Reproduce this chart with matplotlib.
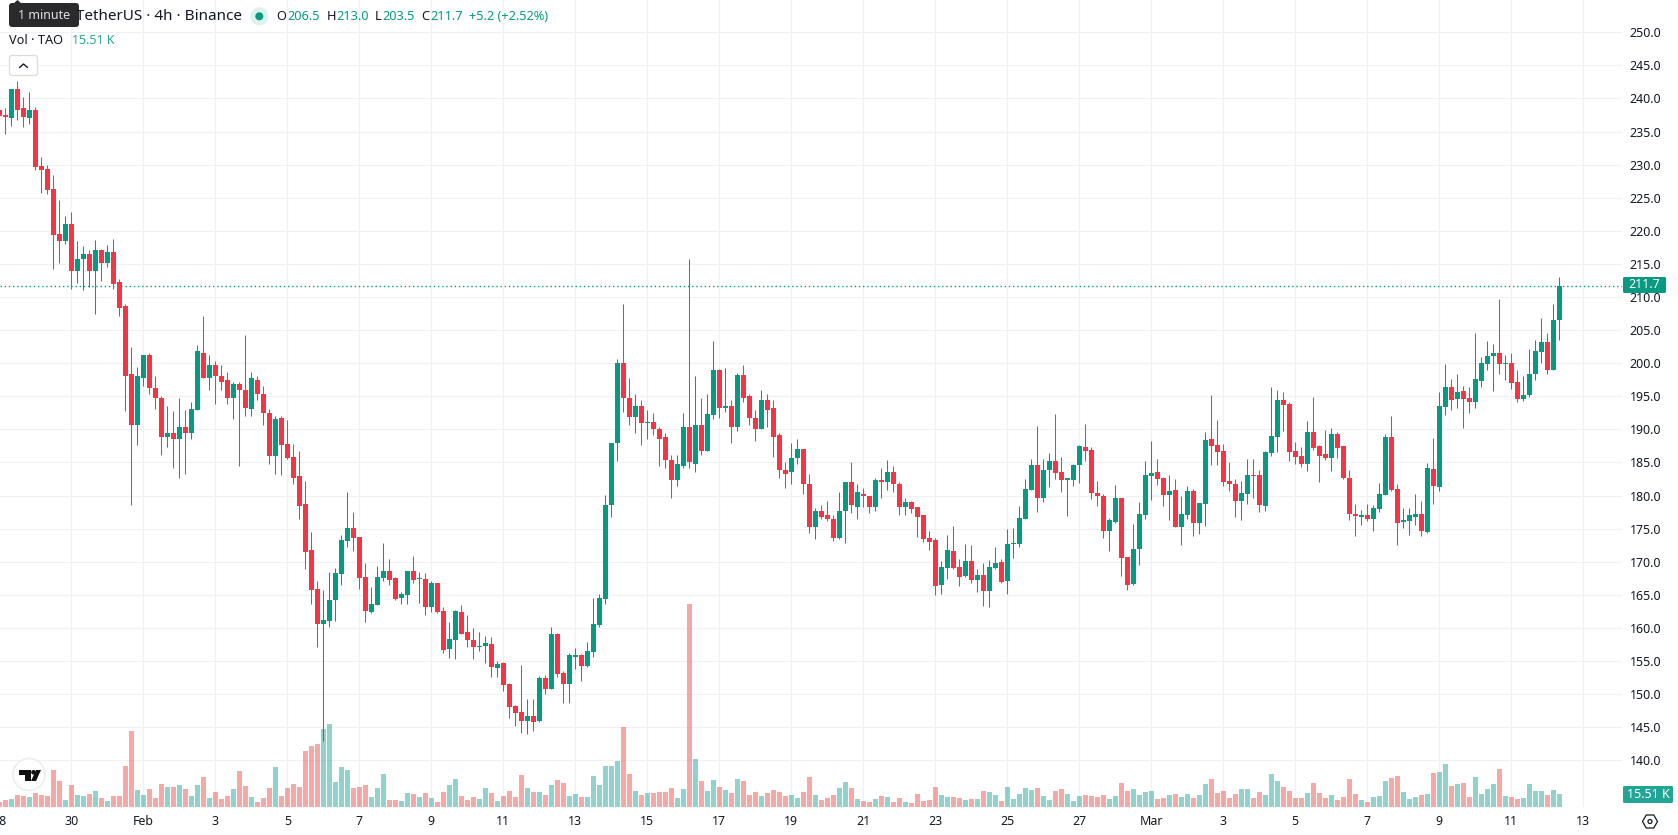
import numpy as np
import matplotlib
matplotlib.use("Agg")
import matplotlib.pyplot as plt
from matplotlib.patches import Circle, FancyBboxPatch, Polygon

plt.rcParams["font.family"] = ["Noto Sans", "DejaVu Sans"]

# ------------------------------------------------------------
# TAO / USDT 4h bars, values in USDT, volume in thousands
# ------------------------------------------------------------
opens = [
    238.2, 237.5, 237.0, 241.4, 238.5, 237.0, 238.2, 229.8, 229.3, 226.3,
    219.5, 218.4, 221.1, 214.0, 215.7, 216.5, 213.9, 217.1, 215.2, 216.8,
    212.2, 208.6, 198.4, 190.6, 197.7, 201.2, 196.3, 194.8, 188.8, 189.5,
    188.5, 190.4, 189.5, 193.0, 201.6, 197.8, 199.7, 198.0, 197.4, 194.8,
    196.9, 196.0, 193.1, 197.5, 195.4, 192.5, 186.0, 191.7, 187.8, 185.9,
    183.0, 178.7, 171.8, 165.9, 160.6, 161.0, 164.2, 168.1, 173.1, 175.1,
    173.7, 167.7, 162.4, 163.5, 167.5, 168.6, 167.5, 164.5, 165.0, 168.6,
    167.4, 167.4, 163.2, 166.8, 162.5, 156.8, 158.2, 162.4, 159.4, 158.2,
    157.1, 157.2, 157.6, 153.9, 154.7, 151.5, 148.2, 147.3, 145.9, 146.7,
    145.9, 152.4, 150.7, 159.1, 153.2, 151.5, 155.6, 155.9, 154.2, 156.3,
    160.4, 164.4, 178.5, 187.9, 200.0, 194.8, 191.8, 193.5, 190.9, 191.1,
    190.1, 188.9, 185.3, 182.3, 184.5, 190.4, 184.8, 190.7, 186.8, 192.1,
    198.9, 193.3, 193.6, 190.3, 198.2, 195.0, 191.7, 190.1, 194.4, 193.2,
    189.1, 183.9, 183.5, 185.6, 187.0, 181.8, 175.3, 177.7, 177.1, 176.5,
    173.6, 177.6, 182.1, 178.3, 180.3, 180.0, 178.2, 182.4, 182.0, 183.5,
    181.8, 178.2, 179.0, 178.2, 177.0, 173.6, 173.3, 166.5, 169.0, 171.6,
    169.2, 167.8, 170.1, 167.2, 168.0, 165.6, 169.0, 169.9, 167.1, 172.7,
    172.7, 176.4, 180.8, 184.6, 179.6, 183.9, 185.2, 183.6, 182.4, 182.4,
    184.6, 187.3, 186.9, 180.4, 179.9, 174.6, 176.0, 179.6, 170.7, 166.6,
    171.9, 177.0, 183.0, 183.6, 182.6, 180.1, 180.8, 175.2, 177.0, 180.7,
    175.8, 178.7, 188.5, 187.6, 186.7, 182.2, 181.7, 179.2, 180.2, 183.1,
    183.1, 178.4, 186.5, 188.9, 194.5, 193.9, 186.7, 186.0, 184.8, 189.6,
    187.5, 186.3, 185.7, 189.3, 187.5, 182.7, 177.2, 176.8, 177.1, 176.5,
    178.0, 180.1, 188.9, 181.0, 176.0, 176.2, 176.8, 177.2, 174.5, 184.0,
    181.3, 193.4, 196.4, 194.6, 195.8, 194.8, 194.2, 197.3, 199.9, 201.1,
    201.6, 199.9, 200.1, 197.2, 194.6, 195.2, 198.3, 201.7, 203.2, 199.0,
    206.5,
]
highs = [
    238.2, 238.5, 241.4, 242.6, 240.2, 241.0, 238.7, 231.1, 229.9, 228.4,
    224.6, 222.3, 222.8, 218.4, 217.7, 217.1, 218.6, 217.2, 217.8, 218.7,
    212.7, 209.0, 202.4, 199.5, 201.3, 201.5, 198.0, 195.1, 193.5, 192.8,
    194.8, 193.0, 194.2, 202.8, 207.2, 201.3, 200.4, 199.7, 198.7, 197.2,
    197.1, 204.3, 198.7, 198.0, 196.6, 193.1, 192.0, 192.0, 191.4, 187.8,
    186.8, 182.2, 174.5, 167.1, 165.7, 168.4, 169.1, 174.0, 180.6, 177.5,
    173.7, 169.8, 166.2, 169.4, 172.8, 170.4, 167.7, 165.4, 168.6, 170.9,
    168.4, 168.3, 167.1, 166.8, 163.2, 160.9, 162.7, 163.5, 161.9, 160.0,
    159.4, 158.8, 158.6, 155.0, 154.8, 151.7, 148.3, 154.4, 149.2, 149.2,
    152.7, 152.9, 160.1, 159.2, 153.5, 156.2, 156.9, 156.0, 157.9, 164.5,
    165.1, 180.1, 188.0, 200.6, 208.9, 197.7, 195.3, 194.4, 192.9, 192.4,
    190.4, 189.5, 186.1, 186.1, 192.4, 215.7, 198.0, 194.8, 195.4, 203.3,
    199.1, 199.2, 194.4, 198.5, 199.8, 195.4, 192.9, 196.0, 195.4, 194.4,
    189.4, 185.0, 188.0, 188.6, 187.0, 183.2, 178.1, 178.6, 179.2, 177.1,
    180.5, 182.1, 185.0, 181.8, 181.2, 180.0, 182.7, 184.2, 185.3, 184.5,
    182.1, 179.6, 179.2, 178.3, 177.0, 174.7, 173.6, 170.1, 174.0, 175.4,
    170.4, 172.7, 172.5, 168.9, 169.8, 170.2, 172.2, 170.4, 174.9, 175.1,
    178.4, 182.5, 185.5, 190.5, 185.5, 186.4, 192.3, 185.8, 182.6, 184.8,
    187.6, 190.8, 187.3, 182.2, 180.2, 176.6, 181.6, 179.6, 170.7, 175.7,
    179.0, 185.2, 188.2, 185.5, 182.8, 183.1, 182.5, 179.9, 181.4, 181.0,
    178.9, 189.6, 195.2, 191.4, 187.8, 185.1, 182.5, 182.2, 185.5, 185.5,
    183.9, 186.7, 196.4, 196.0, 195.7, 194.2, 188.1, 187.4, 191.3, 194.9,
    187.7, 189.9, 190.2, 189.6, 187.5, 183.9, 178.7, 177.8, 178.7, 178.6,
    181.9, 189.3, 192.0, 181.8, 178.1, 178.1, 180.2, 179.2, 184.9, 188.7,
    195.7, 199.9, 197.6, 198.4, 196.6, 196.4, 204.5, 201.0, 203.4, 202.9,
    209.7, 201.3, 201.6, 199.0, 198.1, 202.2, 203.5, 206.9, 204.5, 209.0,
    213.0,
]
lows = [
    237.3, 234.6, 235.8, 236.7, 235.7, 236.1, 229.2, 225.7, 225.5, 214.3,
    215.2, 218.0, 211.2, 212.1, 211.0, 211.5, 207.4, 212.4, 214.6, 211.2,
    207.2, 192.8, 178.6, 187.7, 196.5, 195.4, 193.1, 186.2, 187.3, 184.1,
    182.6, 183.2, 188.6, 193.0, 197.8, 195.9, 193.8, 196.0, 193.8, 191.6,
    184.5, 192.0, 192.0, 194.4, 190.6, 184.8, 183.3, 183.1, 185.5, 181.8,
    176.5, 168.9, 163.6, 157.1, 142.9, 160.1, 161.0, 166.5, 172.2, 171.6,
    165.9, 160.9, 162.2, 163.5, 167.1, 166.5, 164.2, 163.6, 163.6, 166.8,
    163.8, 161.9, 162.4, 162.2, 156.2, 155.4, 155.3, 159.1, 157.1, 155.3,
    156.5, 154.7, 152.6, 152.6, 150.4, 146.4, 145.2, 144.1, 143.9, 144.4,
    145.8, 150.0, 150.7, 152.6, 148.6, 148.6, 153.8, 152.0, 154.1, 155.6,
    160.1, 163.6, 176.7, 185.2, 192.7, 190.6, 189.5, 187.7, 188.5, 189.1,
    184.5, 184.2, 179.6, 181.5, 184.2, 184.2, 183.6, 186.1, 186.8, 191.5,
    191.7, 192.7, 188.0, 189.7, 194.1, 190.6, 188.3, 190.1, 190.3, 185.8,
    182.7, 181.2, 181.8, 184.8, 180.3, 174.4, 173.5, 176.5, 176.2, 173.2,
    173.5, 172.9, 177.4, 176.5, 178.3, 177.4, 177.7, 179.7, 180.8, 180.6,
    177.1, 177.1, 177.4, 173.8, 173.0, 171.7, 165.0, 165.2, 167.4, 168.9,
    166.3, 167.7, 166.8, 165.4, 163.3, 163.1, 168.9, 166.8, 165.1, 170.5,
    172.2, 176.4, 180.8, 177.5, 179.0, 181.3, 182.5, 180.5, 176.9, 181.4,
    181.9, 185.2, 179.5, 178.4, 173.6, 171.6, 175.8, 167.8, 165.7, 166.5,
    169.5, 176.4, 179.3, 181.6, 178.4, 176.3, 175.2, 172.5, 176.4, 173.9,
    174.2, 175.4, 184.6, 184.6, 181.4, 180.7, 176.7, 176.3, 178.7, 179.6,
    177.5, 177.7, 186.0, 186.6, 189.8, 185.2, 184.8, 184.3, 183.7, 186.9,
    182.1, 185.4, 183.7, 185.7, 182.5, 176.3, 173.9, 175.6, 176.2, 174.6,
    177.5, 180.1, 180.7, 172.5, 175.1, 174.0, 175.6, 173.9, 174.3, 178.7,
    180.7, 192.2, 193.0, 193.3, 190.2, 192.4, 193.3, 196.4, 198.9, 195.8,
    198.4, 197.5, 196.1, 194.2, 194.3, 194.9, 197.5, 200.1, 198.4, 199.0,
    203.5,
]
closes = [
    237.3, 237.2, 241.4, 238.2, 237.2, 238.2, 229.6, 229.2, 226.1, 219.3,
    218.4, 221.1, 214.0, 215.8, 216.5, 214.0, 217.1, 215.2, 216.8, 211.9,
    208.4, 198.1, 190.6, 198.0, 201.2, 196.2, 194.7, 188.9, 189.5, 188.5,
    190.4, 189.5, 193.1, 201.8, 197.8, 199.7, 198.0, 197.2, 194.8, 196.9,
    195.9, 193.3, 197.7, 195.4, 192.4, 186.0, 191.6, 187.7, 185.7, 182.7,
    178.4, 171.5, 165.7, 160.6, 161.2, 164.2, 168.3, 173.3, 175.1, 173.6,
    167.5, 162.5, 163.6, 167.7, 168.6, 167.2, 164.4, 165.1, 168.6, 167.2,
    167.6, 163.2, 166.8, 162.4, 156.6, 158.3, 162.5, 159.1, 158.2, 157.1,
    157.3, 157.7, 154.1, 154.5, 151.4, 148.0, 147.1, 145.9, 146.7, 145.8,
    152.4, 150.7, 159.1, 153.0, 151.5, 155.9, 155.9, 154.2, 156.5, 160.6,
    164.5, 178.6, 188.0, 200.0, 194.7, 191.8, 193.5, 190.9, 191.1, 190.0,
    188.6, 185.3, 182.3, 184.7, 190.4, 185.0, 190.7, 186.8, 192.3, 198.9,
    193.3, 193.5, 190.4, 198.2, 194.7, 191.7, 190.0, 194.4, 193.0, 188.9,
    183.8, 183.3, 185.6, 187.0, 181.7, 175.3, 177.6, 176.8, 176.4, 173.6,
    177.7, 182.1, 178.5, 180.5, 179.9, 178.2, 182.4, 182.0, 183.5, 181.8,
    178.2, 179.0, 178.0, 176.8, 173.5, 173.0, 166.4, 169.2, 171.8, 169.0,
    167.7, 170.1, 167.2, 168.0, 165.6, 169.2, 169.8, 166.9, 172.7, 172.9,
    176.6, 181.0, 184.6, 179.6, 183.9, 185.2, 183.4, 182.4, 182.6, 184.6,
    187.5, 186.7, 180.4, 179.9, 174.6, 176.3, 179.6, 170.5, 166.5, 172.0,
    177.2, 183.1, 183.4, 182.5, 180.1, 180.7, 175.2, 177.2, 180.7, 175.8,
    178.9, 188.4, 187.5, 186.6, 182.0, 181.7, 179.2, 180.4, 183.1, 182.9,
    178.6, 186.6, 189.0, 194.5, 193.7, 186.6, 185.8, 184.8, 189.6, 187.2,
    186.0, 185.6, 189.3, 187.2, 182.7, 177.2, 176.9, 177.0, 176.5, 178.1,
    180.2, 188.9, 180.9, 175.9, 176.3, 177.1, 177.2, 174.6, 184.2, 181.5,
    193.6, 196.4, 194.5, 195.7, 194.6, 194.2, 197.6, 200.1, 201.1, 201.6,
    199.9, 200.1, 197.0, 194.6, 195.2, 198.4, 201.9, 203.2, 199.0, 206.6,
    211.7,
]
volumes = [
    6.0, 8.4, 9.5, 14.3, 13.1, 11.9, 16.7, 14.3, 13.1, 44.1,
    31.0, 8.4, 26.2, 14.3, 13.1, 15.5, 19.1, 10.7, 7.2, 13.1,
    13.1, 48.9, 90.7, 20.3, 14.3, 21.5, 10.7, 27.4, 23.9, 23.9,
    26.2, 21.5, 13.1, 26.2, 35.8, 10.7, 17.9, 9.5, 13.1, 21.5,
    42.9, 25.1, 11.9, 6.0, 10.7, 22.7, 47.7, 13.1, 22.7, 27.4,
    23.9, 66.8, 72.8, 75.2, 93.1, 99.0, 29.8, 47.7, 44.1, 22.7,
    23.9, 26.2, 11.9, 22.7, 39.4, 8.4, 8.4, 7.2, 16.7, 15.5,
    11.9, 16.7, 10.7, 6.0, 17.9, 26.2, 33.4, 13.1, 8.4, 11.9,
    9.5, 22.7, 16.7, 7.2, 13.1, 19.1, 11.9, 38.2, 22.7, 17.9,
    17.9, 14.3, 26.2, 32.2, 28.6, 13.1, 15.5, 11.9, 11.9, 37.0,
    26.2, 48.9, 48.9, 54.9, 95.4, 39.4, 19.1, 14.3, 16.7, 16.7,
    17.9, 17.9, 22.7, 10.7, 21.5, 242.2, 57.3, 31.0, 19.1, 32.2,
    23.9, 20.3, 16.7, 33.4, 31.0, 14.3, 17.9, 13.1, 16.7, 20.3,
    17.9, 13.1, 14.3, 10.7, 17.9, 35.8, 14.3, 8.4, 10.7, 14.3,
    22.7, 29.8, 22.7, 9.5, 7.2, 6.0, 9.5, 13.1, 11.9, 6.0,
    10.7, 6.0, 4.8, 15.5, 7.2, 8.4, 23.9, 14.3, 11.9, 11.9,
    10.7, 8.4, 9.5, 9.5, 19.1, 17.9, 14.3, 7.2, 23.9, 9.5,
    15.5, 22.7, 20.3, 22.7, 13.1, 8.4, 19.1, 21.5, 15.5, 7.2,
    13.1, 14.3, 13.1, 11.9, 14.3, 9.5, 13.1, 28.6, 19.1, 21.5,
    14.3, 17.9, 19.1, 9.5, 10.7, 14.3, 15.5, 11.9, 15.5, 10.7,
    14.3, 27.4, 33.4, 16.7, 19.1, 10.7, 15.5, 21.5, 21.5, 10.7,
    17.9, 14.3, 39.4, 31.0, 23.9, 19.1, 10.7, 10.7, 16.7, 28.6,
    16.7, 10.7, 14.3, 8.4, 11.9, 33.4, 15.5, 8.4, 6.0, 11.9,
    13.1, 31.0, 34.6, 37.0, 17.9, 9.5, 11.9, 14.3, 15.5, 40.6,
    41.8, 51.3, 25.1, 27.4, 28.6, 11.9, 35.8, 15.5, 21.5, 27.4,
    45.3, 13.1, 11.9, 9.5, 10.7, 27.4, 19.1, 19.1, 14.3, 20.3,
    15.51,
]

date_labels = ["28", "30", "Feb", "3", "5", "7", "9", "11", "13", "15", "17", "19",
               "21", "23", "25", "27", "Mar", "3", "5", "7", "9", "11", "13"]
price_ticks = list(range(140, 255, 5))
last_price = closes[-1]

GREEN = "#089981"
RED = "#F23645"
VOL_GREEN = "#26A69A"
VOL_RED = "#EF5350"
GRID = "#F1F1F3"
TEXT = "#131722"
BARS_PER_LABEL = 12   # two days of 4h bars
VOL_PANE_TOP = 963.0  # volume at the top edge of the pane

# ------------------------------------------------------------
# Price pane
# ------------------------------------------------------------
W, H = 1678, 835
PANE_W, PANE_H = 1622, 807

fig = plt.figure(figsize=(W / 100, H / 100), dpi=100, facecolor="white")
ax = fig.add_axes([0, (H - PANE_H) / H, PANE_W / W, PANE_H / H])
ax.set_xlim(0.112, 270.45)
ax.set_ylim(132.94, 254.88)

for side in ax.spines.values():
    side.set_visible(False)

x = np.arange(len(closes))
o = np.array(opens)
c = np.array(closes)
rising = c >= o
colors = [GREEN if up else RED for up in rising]
vol_colors = [VOL_GREEN if up else VOL_RED for up in rising]

label_pos = [i * BARS_PER_LABEL for i in range(len(date_labels))]
ax.set_xticks(label_pos[1:], date_labels[1:])
ax.set_yticks(price_ticks, [f"{p:.1f}" for p in price_ticks])
ax.yaxis.tick_right()
ax.tick_params(axis="x", length=0, pad=5.6, labelsize=8.9, labelcolor=TEXT)
ax.tick_params(axis="y", length=0, pad=5.6, labelsize=8.9, labelcolor=TEXT)
for lab in ax.get_xticklabels():
    if lab.get_text() in ("Feb", "Mar"):
        lab.set_fontweight("bold")
ax.grid(True, color=GRID, linewidth=0.9, zorder=0.5)
ax.set_axisbelow(True)

# first date label hangs off the left edge
ax.text(label_pos[0], -0.0182, date_labels[0], transform=ax.get_xaxis_transform(),
        ha="center", va="center", fontsize=8.9, color=TEXT)

# volume sits on the pane floor, scaled to the pane height
ax.bar(x, np.array(volumes) / VOL_PANE_TOP, width=0.84, color=vol_colors, alpha=0.5,
       linewidth=0, transform=ax.get_xaxis_transform(), zorder=1.5)

# candles
ax.vlines(x, lows, highs, colors=colors, linewidth=0.75, zorder=3)
ax.bar(x, np.abs(c - o), bottom=np.minimum(o, c), width=0.84, color=colors,
       linewidth=0, zorder=3.5)

# last price line
ax.axhline(last_price, color=GREEN, linewidth=1.0, linestyle=(0, (1.0, 2.0)), zorder=2.5)

# ------------------------------------------------------------
# Header, badges and logo, laid out in screen pixels
# ------------------------------------------------------------
ui = fig.add_axes([0, 0, 1, 1], zorder=10)
ui.set_xlim(0, W)
ui.set_ylim(H, 0)
ui.axis("off")


def ui_box(x0, y0, x1, y1, color, radius=2.0, edge="none"):
    ui.add_patch(FancyBboxPatch((x0 + radius, y0 + radius), x1 - x0 - 2 * radius, y1 - y0 - 2 * radius,
                                boxstyle=f"round,pad={radius},rounding_size={radius}",
                                facecolor=color, edgecolor=edge, linewidth=0.9))


ui.text(76, 16, "TetherUS · 4h · Binance", fontsize=11, color=TEXT, va="center", ha="left")

# tooltip over the symbol name
ui_box(9, 3, 79, 27, "#2A2A2C", radius=3)
ui.add_patch(Polygon([[13, 4], [17.5, 0], [22, 4]], closed=True, facecolor="#2A2A2C", edgecolor="none"))
ui.text(44, 15.8, "1 minute", fontsize=9.0, color="#E0E0E0", ha="center", va="center")

# market status dot
ui.add_patch(Circle((259.3, 16.3), 9, facecolor="#DDF1EE", edgecolor="none"))
ui.add_patch(Circle((259.3, 16.3), 4, facecolor=GREEN, edgecolor="none"))

ohlc_fields = [(276.7, "O", 287.5, "206.5"), (326.7, "H", 336.5, "213.0"),
               (375, "L", 382.5, "203.5"), (421.7, "C", 430.5, "211.7")]
for lx, letter, vx, value in ohlc_fields:
    ui.text(lx, 16, letter, fontsize=9.2, color=TEXT, va="center", ha="left")
    ui.text(vx, 16, value, fontsize=9.2, color=GREEN, va="center", ha="left")
ui.text(469, 16, "+5.2 (+2.52%)", fontsize=9.2, color=GREEN, va="center", ha="left")

ui.text(9, 41, "Vol · TAO", fontsize=9.2, color=TEXT, va="center", ha="left")
ui.text(71.5, 41, "15.51 K", fontsize=8.9, color="#26A69A", va="center", ha="left")

# collapse button
ui_box(9.5, 55.5, 37.5, 75.5, "white", radius=2.5, edge="#DADBDE")
ui.plot([19.5, 23.5, 27.5], [67.5, 64, 67.5], color=TEXT, linewidth=1.0, solid_capstyle="round")

# axis badges
ui_box(1623, 277, 1666, 293, GREEN, radius=1.5)
ui.text(1644.5, 285, f"{last_price:.1f}", fontsize=9.0, color="white", ha="center", va="center")
ui_box(1623, 786, 1673, 803, "#22A595", radius=1.5)
ui.text(1648, 794.5, "15.51 K", fontsize=9.0, color="white", ha="center", va="center")

# logo badge
ui.add_patch(Circle((29, 774.5), 16, facecolor="white", edgecolor="#EDEDEF", linewidth=1.2))
ui.add_patch(Polygon([[19, 770], [31, 770], [31, 781], [25, 781], [25, 775], [19, 775]],
                     closed=True, facecolor="#111111", edgecolor="none"))
ui.add_patch(Circle((33.5, 772.3), 2.3, facecolor="#111111", edgecolor="none"))
ui.add_patch(Polygon([[36, 770], [41, 770], [36, 781], [31, 781]],
                     closed=True, facecolor="#111111", edgecolor="none"))

# settings icon in the corner
hex_r = 7.5
angles = np.deg2rad(np.arange(0, 360, 60))
ui.add_patch(Polygon(np.column_stack([1650 + hex_r * np.cos(angles), 821.5 + hex_r * np.sin(angles)]),
                     closed=True, facecolor="none", edgecolor=TEXT, linewidth=0.9))
ui.add_patch(Circle((1650, 821.5), 2, facecolor="none", edgecolor=TEXT, linewidth=0.9))

fig.savefig("out.png", dpi=100, facecolor="white")
